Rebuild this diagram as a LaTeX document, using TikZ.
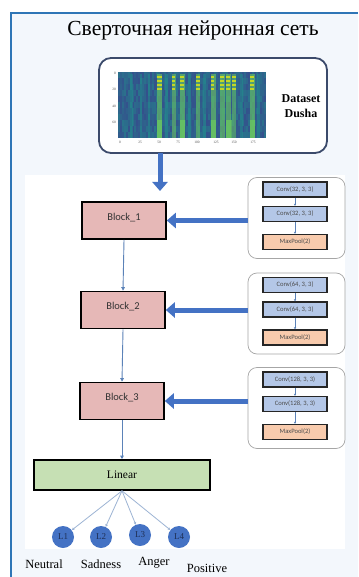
\documentclass[tikz,border=0pt]{standalone}
\usepackage{fontspec}
\setmainfont{Liberation Serif}
\newfontfamily\carlitofont{Carlito}
\usetikzlibrary{arrows.meta,positioning}
\definecolor{frameblue}{HTML}{2E75B6}
\definecolor{bgpale}{HTML}{F3F7FC}
\definecolor{bigblue}{HTML}{4472C4}
\definecolor{thinblue}{HTML}{5B82B8}
\definecolor{blockpink}{HTML}{E6B8B7}
\definecolor{convblue}{HTML}{B4C7E7}
\definecolor{poolorange}{HTML}{F8CBAD}
\definecolor{lingreen}{HTML}{C6E0B4}
\definecolor{dsborder}{HTML}{3B4A6B}
\definecolor{vdark}{HTML}{34508C}
\definecolor{vteal}{HTML}{21918C}
\definecolor{vgreen}{HTML}{6CCB5F}
\definecolor{vyellow}{HTML}{D8E219}
\definecolor{labnavy}{HTML}{1F2F55}
\tikzset{
  blockbox/.style={draw=black, line width=1.6pt, fill=blockpink, minimum width=84pt, minimum height=37pt, inner sep=0pt, font=\carlitofont\fontsize{10.5}{12}\selectfont, text=black!80},
  layerbox/.style={draw=black!85, line width=1.2pt, minimum width=64pt, minimum height=15pt, inner sep=0pt, font=\carlitofont\fontsize{6.6}{7}\selectfont, text=black!70},
  groupbox/.style={draw=black!35, line width=0.7pt, rounded corners=9pt, fill=white, minimum width=97pt, minimum height=81pt},
  bigarrow/.style={draw=bigblue, line width=5pt, -{Triangle[length=9pt,width=15pt]}},
  thinarrow/.style={draw=thinblue, line width=0.9pt, -{Triangle[length=3.5pt,width=3.5pt]}},
  smallarrow/.style={draw=thinblue, line width=0.5pt, -{Triangle[length=2pt,width=2pt]}},
  fanarrow/.style={draw=thinblue!60, line width=0.8pt, -{Triangle[length=2.5pt,width=2.5pt]}},
  outnode/.style={circle, fill=bigblue, minimum size=22pt, inner sep=0pt, font=\fontsize{9}{10}\selectfont, text=labnavy},
  classlab/.style={font=\fontsize{12.5}{14}\selectfont, text=black, inner sep=0pt},
  ticklab/.style={font=\fontsize{3.5}{4}\selectfont, text=black!70, inner sep=0pt}
}
\begin{document}
\begin{tikzpicture}[x=1pt,y=-1pt]
\useasboundingbox (0,0) rectangle (358,577);
\fill[white] (0,0) rectangle (358,577);
\fill[bgpale] (11,13) rectangle (358,577);
\draw[frameblue, line width=1.6pt] (11,577) -- (11,13) -- (358,13);
\fill[white] (25,175) rectangle (345,549);

% title
\node[font=\fontsize{21.5}{24}\selectfont, inner sep=0pt] (title) at (193,30) {Сверточная нейронная сеть};

% dataset box
\node[draw=dsborder, line width=1.8pt, rounded corners=12pt, fill=white, minimum width=228pt, minimum height=95pt] (ds) at (213,105.5) {};
% spectrogram
\pgfmathsetseed{7}
\foreach \i in {0,...,73}{
  \foreach \j in {0,...,10}{
    \pgfmathtruncatemacro\r{rnd*55}
    \fill[vteal!\r!vdark] (118+2*\i,72+6*\j) rectangle +(2,6);
  }
}
\foreach \x/\w/\c/\o in {130/3/vteal/0.5,140/2/vteal/0.5,148/2/vteal/0.5,157/5/vgreen/0.6,165/3/vteal/0.6,172/4/vgreen/0.55,180/5/vgreen/0.6,188/3/vteal/0.6,196/4/vgreen/0.55,203/3/vteal/0.5,211/5/vgreen/0.6,220/5/vgreen/0.6,226/5/vgreen/0.6,232/4/vgreen/0.5,240/3/vteal/0.5,250/5/vgreen/0.6,257/3/vteal/0.5}{
  \fill[\c, opacity=\o] (\x,74) rectangle (\x+\w,138);
}
\foreach \x/\w in {157/5,172/3,180/4,196/4,211/3,220/4,226/4,232/4,250/4}{
  \foreach \y in {76,80,84,88}{
    \fill[vyellow, opacity=0.85] (\x,\y) rectangle (\x+\w,\y+1.8);
  }
}
\foreach \x/\w in {157/5,180/5,211/5,226/6,250/5}{
  \fill[vgreen, opacity=0.7] (\x,120) rectangle (\x+\w,138);
}
\foreach \v/\y in {0/73,20/89,40/106,60/122}{
  \node[ticklab, anchor=east] (yt\v) at (116,\y) {\v};
}
\foreach \v/\x in {0/120,25/140,50/159,75/178,100/197,125/216,150/234,175/253}{
  \node[ticklab] (xt\v) at (\x,142) {\v};
}
\node[font=\bfseries\fontsize{12}{15}\selectfont, align=center, inner sep=0pt] (dslab) at (301,106) {Dataset\\Dusha};

% blocks
\node[blockbox, text depth=8pt] (b1) at (124,220.5) {Block\_1};
\node[blockbox, text depth=8pt] (b2) at (123,310) {Block\_2};
\node[blockbox, text depth=8pt] (b3) at (122,401) {Block\_3};
\node[draw=black, line width=1.6pt, fill=lingreen, minimum width=176pt, minimum height=30pt, inner sep=0pt, font=\fontsize{11.5}{13}\selectfont] (lin) at (122,475) {Linear};

% dataset arrow
\coordinate (dsout) at (160,153);
\draw[bigarrow] (dsout) -- (160,191);

% thin arrows
\draw[thinarrow] (b1.south) -- (b2.north);
\draw[thinarrow] (b2.south) -- (b3.north);
\draw[thinarrow] (b3.south) -- (lin.north);

% groups
\foreach \i/\cy/\n in {1/218/32,2/313.5/64,3/408/128}{
  \node[groupbox] (g\i) at (296.5,\cy) {};
  \node[layerbox, fill=convblue] (c\i a) at (295,\cy-28.5) {Conv(\n, 3, 3)};
  \node[layerbox, fill=convblue] (c\i b) at (295,\cy-4) {Conv(\n, 3, 3)};
  \node[layerbox, fill=poolorange] (p\i) at (295,\cy+24) {MaxPool(2)};
  \draw[smallarrow] (c\i a.south) -- (c\i b.north);
  \draw[smallarrow] (c\i b.south) -- (p\i.north);
}
\draw[bigarrow] (g1.west |- b1.east) -- (b1.east);
\draw[bigarrow] (g2.west |- b2.east) -- (b2.east);
\draw[bigarrow] (g3.west |- b3.east) -- (b3.east);

% outputs
\node[outnode] (l1) at (63,537) {L1};
\node[outnode] (l2) at (101,537) {L2};
\node[outnode] (l3) at (140,535) {L3};
\node[outnode] (l4) at (179,537) {L4};
\foreach \i in {1,2,3,4}{
  \draw[fanarrow] (lin.south) -- (l\i);
}
\node[classlab] (n1) at (44,564) {Neutral};
\node[classlab] (n2) at (101,564) {Sadness};
\node[classlab] (n3) at (154,563) {Anger};
\node[classlab] (n4) at (207,568) {Positive};
\end{tikzpicture}
\end{document}
